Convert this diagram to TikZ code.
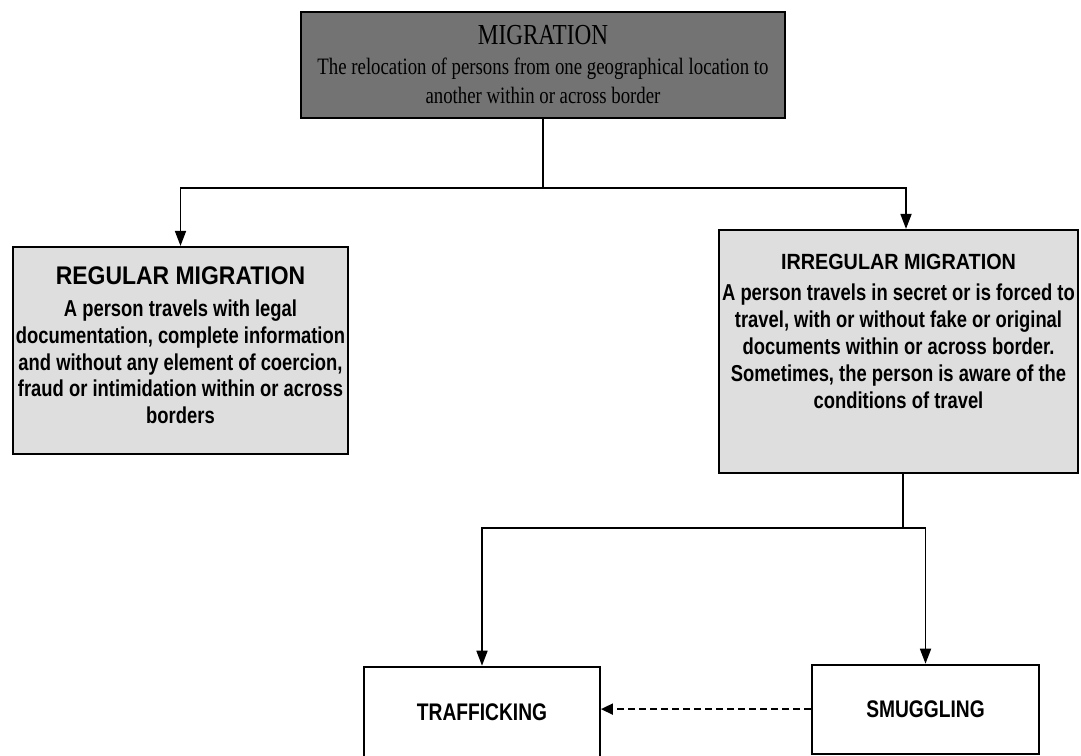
\documentclass[tikz,border=0pt]{standalone}
\usepackage{fontspec}
\setmainfont{Liberation Sans}
\newfontfamily\headfont{Liberation Sans}[FakeStretch=0.9]
\newfontfamily\bodyfont{Liberation Sans}[FakeStretch=0.8]
\newfontfamily\titlefont{Liberation Serif}[FakeStretch=0.8]
\usepackage{tikz}
\usetikzlibrary{arrows.meta,positioning}
\definecolor{darkbox}{gray}{0.45}
\definecolor{lightbox}{gray}{0.87}

\begin{document}
\begin{tikzpicture}[
            x=1pt, y=1pt,
            node distance=20pt,
            box/.style={draw, line width=1.8pt, inner sep=0pt, align=center},
            txt/.style={inner sep=0pt, align=center},
            link/.style={line width=1.7pt},
            arrow/.style={link, -{Triangle[length=15pt,width=11pt]}}
          ]
          \useasboundingbox (0,0) rectangle (1081,-755);

          % Nodes
          \node[box, fill=darkbox, minimum width=484pt, minimum height=106pt,
                font=\titlefont\fontsize{23.5}{29.5}\selectfont] (mig) at (543,-65)
                {{\fontsize{29}{30}\selectfont MIGRATION}\\
                 The relocation of persons from one geographical location to\\
                 another within or across border};
          \node[box, fill=lightbox, minimum width=335pt, minimum height=207pt,
                below=127pt of mig, xshift=-362.5pt] (reg) {};
          \node[txt, below=21pt of reg.north,
                font=\bodyfont\bfseries\fontsize{23}{26.75}\selectfont] (regtext)
                {{\headfont\fontsize{25.5}{26}\selectfont REGULAR MIGRATION}\\[5pt]
                 A person travels with legal\\
                 documentation, complete information\\
                 and without any element of coercion,\\
                 fraud or intimidation within or across\\
                 borders};
          \node[box, fill=lightbox, minimum width=359pt, minimum height=243pt,
                below=110pt of mig, xshift=355.5pt] (irr) {};
          \node[txt, below=25pt of irr.north,
                font=\bodyfont\bfseries\fontsize{23}{27}\selectfont] (irrtext)
                {{\headfont\fontsize{22}{24}\selectfont IRREGULAR MIGRATION}\\[4pt]
                 A person travels in secret or is forced to\\
                 travel, with or without fake or original\\
                 documents within or across border.\\
                 Sometimes, the person is aware of the\\
                 conditions of travel};
          \node[box, minimum width=236pt, minimum height=92pt,
                below=192pt of irr, xshift=-416.5pt,
                font=\bodyfont\bfseries\fontsize{24}{26}\selectfont] (traf) {TRAFFICKING};
          \node[box, minimum width=227pt, minimum height=89pt,
                below=190pt of irr, xshift=27pt,
                font=\bodyfont\bfseries\fontsize{24}{26}\selectfont] (smug) {SMUGGLING};

          % Edges
          \draw[link] (mig.south) -- ++(0,-69) coordinate (fork1);
          \draw[arrow] (fork1) -| (reg.north);
          \draw[arrow] (fork1) -| ([xshift=7.5pt]irr.north);
          \draw[link] ([xshift=4.5pt]irr.south) -- ++(0,-54) coordinate (fork2);
          \draw[arrow] (fork2) -| (traf.north);
          \draw[arrow] (fork2) -| (smug.north);
          \draw[link, -{Triangle[length=12pt,width=11pt]}, dash pattern=on 7pt off 4pt]
                (smug.west) -- (smug.west -| traf.east);

        \end{tikzpicture}
\end{document}
